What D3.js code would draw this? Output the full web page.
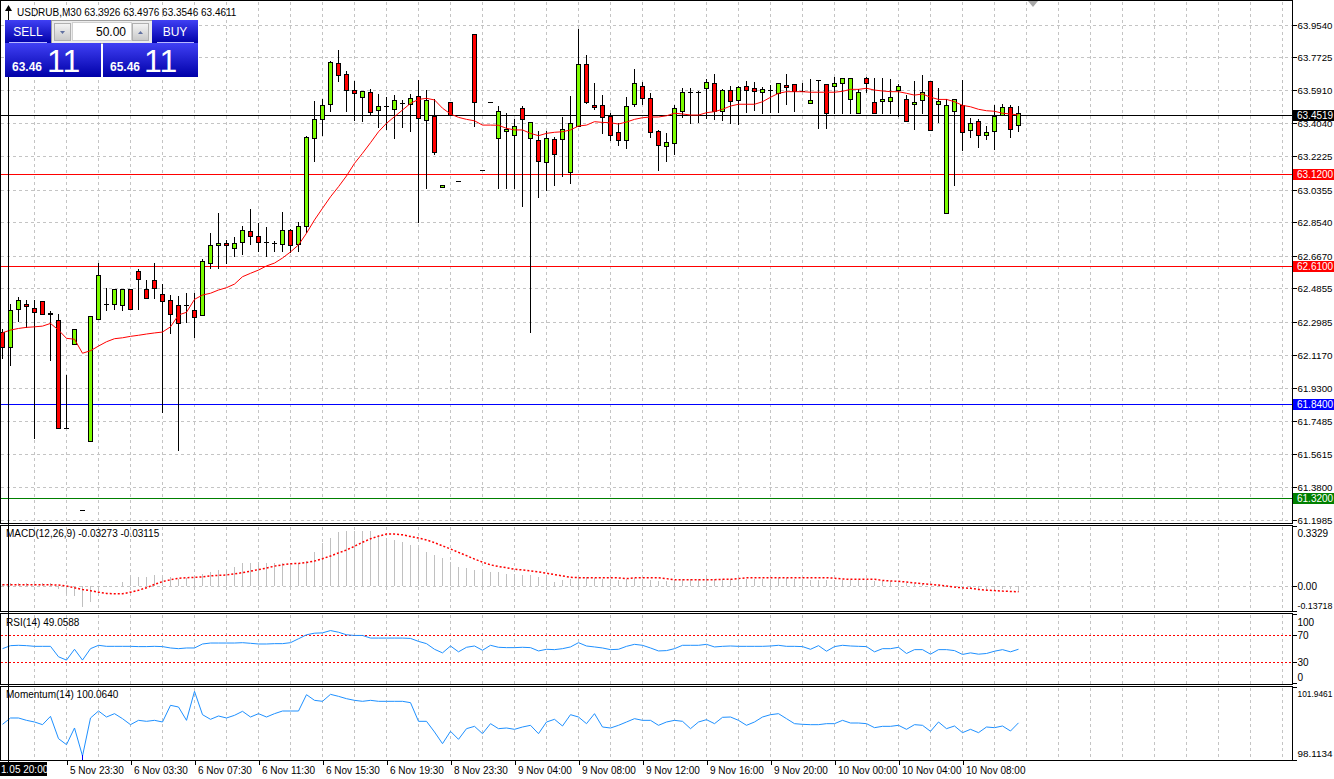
<!DOCTYPE html>
<html>
<head>
<meta charset="utf-8">
<script src="https://d3js.org/d3.v7.min.js"></script>
<style>
  html, body { margin: 0; padding: 0; background: #fff; }
  svg { display: block; font-family: "Liberation Sans", Arial, sans-serif; }
</style>
</head>
<body>
<div id="chart"></div>
<script>
// USDRUB M30 candles
const openP = [62.242,62.159,62.370,62.398,62.376,62.415,62.348,62.309,61.708,62.175,
  61.251,61.635,62.314,62.398,62.398,62.392,62.481,62.582,62.481,62.532,
  62.454,62.420,62.392,62.392,62.365,62.337,62.626,62.727,62.738,62.710,
  62.743,62.804,62.776,62.743,62.738,62.732,62.810,62.732,62.832,63.322,
  63.428,63.511,63.740,63.678,63.589,63.550,63.578,63.478,63.500,63.484,
  63.517,63.511,63.556,63.422,63.445,63.049,63.523,63.083,63.450,63.901,
  63.144,63.523,63.322,63.361,63.339,63.489,63.322,63.311,63.189,63.317,
  63.317,63.133,63.389,63.734,63.506,63.506,63.445,63.355,63.311,63.511,
  63.612,63.545,63.361,63.278,63.294,63.473,63.578,63.578,63.601,63.628,
  63.473,63.589,63.534,63.612,63.601,63.578,63.592,63.573,63.617,63.623,
  63.584,63.517,63.645,63.623,63.612,63.628,63.539,63.461,63.656,63.523,
  63.528,63.528,63.589,63.539,63.511,63.534,63.639,63.511,62.905,63.473,
  63.506,63.367,63.417,63.339,63.361,63.450,63.495,63.3926];
const highP = [62.259,62.398,62.437,62.420,62.420,62.415,62.359,62.342,62.003,62.259,
  61.251,62.331,62.626,62.487,62.481,62.481,62.481,62.593,62.532,62.626,
  62.509,62.448,62.443,62.459,62.459,62.648,62.793,62.905,62.754,62.771,
  62.832,62.927,62.849,62.827,62.749,62.910,62.816,62.855,63.333,63.528,
  63.539,63.751,63.812,63.695,63.639,63.584,63.595,63.567,63.550,63.562,
  63.534,63.567,63.645,63.589,63.539,63.060,63.523,63.083,63.450,63.901,
  63.144,63.523,63.500,63.461,63.428,63.500,63.411,63.361,63.361,63.328,
  63.439,63.556,63.929,63.784,63.628,63.562,63.461,63.406,63.550,63.706,
  63.634,63.573,63.367,63.350,63.506,63.601,63.601,63.584,63.651,63.678,
  63.595,63.612,63.612,63.639,63.634,63.606,63.617,63.628,63.678,63.623,
  63.628,63.651,63.645,63.623,63.662,63.656,63.656,63.595,63.662,63.656,
  63.656,63.651,63.623,63.562,63.639,63.673,63.639,63.601,63.539,63.539,
  63.645,63.433,63.428,63.389,63.506,63.511,63.506,63.4976];
const lowP = [62.092,62.053,62.298,62.264,61.646,62.342,62.081,61.708,61.708,62.175,
  61.251,61.635,62.314,62.359,62.365,62.359,62.365,62.365,62.431,62.426,
  61.791,62.231,61.580,62.292,62.209,62.337,62.593,62.593,62.621,62.660,
  62.671,62.727,62.688,62.660,62.688,62.688,62.682,62.688,62.793,63.189,
  63.333,63.467,63.634,63.467,63.417,63.411,63.445,63.378,63.367,63.317,
  63.378,63.355,62.849,63.038,63.228,63.049,63.450,63.083,63.450,63.383,
  63.144,63.523,63.038,63.038,63.038,62.938,62.237,62.988,63.027,63.055,
  63.105,63.066,63.389,63.511,63.478,63.344,63.305,63.278,63.261,63.495,
  63.506,63.322,63.138,63.189,63.228,63.433,63.400,63.406,63.428,63.422,
  63.417,63.400,63.395,63.461,63.473,63.456,63.461,63.461,63.506,63.467,
  63.578,63.517,63.372,63.372,63.456,63.456,63.456,63.461,63.573,63.456,
  63.456,63.456,63.439,63.417,63.367,63.456,63.367,63.406,62.905,63.055,
  63.250,63.322,63.267,63.311,63.255,63.450,63.322,63.3546];
const closeP = [62.159,62.365,62.420,62.387,62.354,62.342,62.342,61.708,61.708,62.259,
  61.251,62.331,62.560,62.398,62.481,62.481,62.370,62.537,62.431,62.487,
  62.415,62.342,62.292,62.392,62.326,62.637,62.727,62.738,62.727,62.738,
  62.810,62.776,62.743,62.743,62.738,62.810,62.727,62.832,63.328,63.428,
  63.506,63.745,63.673,63.589,63.573,63.584,63.467,63.500,63.500,63.534,
  63.517,63.545,63.433,63.534,63.244,63.060,63.450,63.083,63.450,63.523,
  63.144,63.523,63.473,63.372,63.389,63.428,63.411,63.194,63.322,63.233,
  63.372,63.406,63.734,63.523,63.495,63.439,63.339,63.311,63.500,63.628,
  63.545,63.355,63.283,63.300,63.489,63.578,63.578,63.578,63.634,63.473,
  63.589,63.528,63.606,63.589,63.584,63.595,63.592,63.628,63.606,63.584,
  63.584,63.534,63.645,63.461,63.628,63.656,63.656,63.578,63.628,63.461,
  63.539,63.550,63.612,63.417,63.523,63.578,63.367,63.528,63.506,63.539,
  63.355,63.406,63.339,63.355,63.445,63.495,63.372,63.4611];
// red moving average on the price chart
const maLine = [62.238,62.253,62.262,62.268,62.271,62.275,62.290,62.253,62.207,62.202,
  62.124,62.138,62.164,62.188,62.205,62.210,62.218,62.224,62.231,62.237,
  62.242,62.271,62.337,62.352,62.424,62.448,62.458,62.476,62.489,62.509,
  62.550,62.569,62.587,62.610,62.626,62.654,62.688,62.727,62.792,62.866,
  62.931,62.995,63.051,63.111,63.181,63.237,63.296,63.357,63.404,63.441,
  63.478,63.515,63.537,63.543,63.534,63.488,63.456,63.437,63.426,63.418,
  63.394,63.394,63.393,63.376,63.367,63.367,63.348,63.335,63.348,63.354,
  63.357,63.367,63.389,63.394,63.413,63.409,63.407,63.400,63.411,63.426,
  63.435,63.439,63.439,63.446,63.460,63.456,63.450,63.450,63.463,63.469,
  63.482,63.500,63.510,63.510,63.510,63.524,63.549,63.571,63.580,63.580,
  63.580,63.577,63.577,63.577,63.577,63.582,63.593,63.593,63.599,63.589,
  63.584,63.580,63.580,63.571,63.561,63.567,63.549,63.537,63.537,63.524,
  63.504,63.496,63.482,63.474,63.471,63.460,63.456,63.450];
// MACD(12,26,9): histogram and dotted signal
const macdMain = [0.014,0.015,0.015,0.016,0.016,0.016,0.017,-0.014,-0.042,-0.052,
  -0.117,-0.085,-0.024,-0.005,0.003,0.021,0.051,0.051,0.051,0.060,
  0.051,0.051,0.042,0.047,0.047,0.070,0.079,0.092,0.088,0.107,
  0.126,0.126,0.135,0.126,0.126,0.126,0.126,0.126,0.140,0.191,
  0.238,0.266,0.300,0.307,0.307,0.307,0.303,0.284,0.269,0.256,
  0.247,0.228,0.210,0.191,0.172,0.154,0.132,0.107,0.098,0.088,
  0.079,0.079,0.079,0.070,0.070,0.064,0.060,0.051,0.045,0.023,
  0.032,0.038,0.051,0.051,0.045,0.042,0.038,0.032,0.038,0.045,
  0.042,0.032,0.027,0.027,0.036,0.042,0.042,0.042,0.045,0.038,
  0.038,0.038,0.042,0.042,0.042,0.042,0.042,0.045,0.045,0.042,
  0.042,0.036,0.036,0.032,0.032,0.036,0.036,0.036,0.036,0.029,
  0.029,0.027,0.027,0.019,0.014,0.014,0.001,-0.001,0.001,-0.001,
  -0.014,-0.018,-0.020,-0.024,-0.024,-0.018,-0.018,-0.033];
const macdSignal = [0.008,0.008,0.008,0.008,0.008,0.008,0.008,0.006,0.001,-0.009,
  -0.018,-0.025,-0.033,-0.040,-0.042,-0.042,-0.033,-0.022,-0.009,0.010,
  0.025,0.036,0.044,0.047,0.049,0.051,0.057,0.060,0.062,0.068,
  0.075,0.083,0.092,0.100,0.111,0.118,0.124,0.126,0.131,0.139,
  0.152,0.167,0.184,0.200,0.221,0.243,0.262,0.277,0.288,0.288,
  0.284,0.275,0.266,0.256,0.241,0.223,0.206,0.187,0.169,0.150,
  0.133,0.118,0.109,0.102,0.094,0.090,0.085,0.079,0.072,0.064,
  0.057,0.049,0.047,0.047,0.047,0.047,0.047,0.046,0.042,0.046,
  0.047,0.047,0.047,0.042,0.036,0.036,0.036,0.036,0.036,0.036,
  0.038,0.038,0.042,0.047,0.047,0.047,0.047,0.047,0.047,0.047,
  0.047,0.047,0.047,0.047,0.044,0.040,0.038,0.038,0.038,0.038,
  0.032,0.029,0.027,0.023,0.018,0.014,0.010,0.006,0.001,-0.005,
  -0.009,-0.012,-0.018,-0.022,-0.024,-0.027,-0.029,-0.031];
// RSI(14)
const rsiLine = [49.9,54.3,54.8,54.3,53.3,53.3,53.3,38.1,33.3,49.0,
  33.3,49.9,54.8,53.3,53.3,53.3,53.3,52.9,52.9,53.3,
  52.9,50.9,49.9,50.9,50.9,56.7,58.1,58.1,58.1,58.1,
  58.6,57.7,56.7,56.7,57.2,57.2,58.6,64.3,70.1,72.4,
  72.9,76.2,73.8,70.1,69.1,69.1,65.3,65.3,65.3,65.3,
  65.3,64.8,60.5,57.2,49.0,43.8,53.8,45.3,51.9,53.8,
  47.6,54.8,51.9,51.4,51.4,51.9,51.4,46.6,49.0,48.5,
  49.9,52.4,58.6,53.8,52.4,50.9,48.5,49.0,53.3,56.2,
  54.8,50.9,46.6,47.1,49.9,54.8,54.8,54.8,56.2,52.4,
  53.3,53.8,53.3,53.3,53.3,53.3,53.8,54.8,53.3,53.3,
  52.9,49.0,54.3,46.2,52.9,54.8,53.8,53.3,52.9,45.3,
  49.9,49.9,51.9,42.9,48.5,48.5,41.9,48.5,48.5,47.1,
  41.5,43.8,41.9,42.9,46.2,48.5,45.3,49.06];
// Momentum(14)
const momLine = [99.986,100.319,100.319,100.196,100.109,99.969,100.406,99.234,98.919,99.794,
  98.324,100.319,100.686,100.371,100.546,100.284,99.969,100.196,100.144,100.196,
  100.109,100.984,100.896,100.196,101.719,100.493,100.249,100.424,100.319,100.459,
  100.669,100.371,100.546,100.371,100.546,100.686,100.686,100.686,101.543,101.246,
  101.194,101.561,101.456,101.333,101.246,101.194,101.246,101.194,101.194,101.194,
  101.194,101.124,100.144,100.144,99.584,98.971,99.619,99.199,99.759,99.881,
  99.496,100.021,99.759,99.794,99.724,99.846,99.934,99.496,100.109,100.249,
  99.899,100.493,100.371,100.021,100.546,99.846,99.794,99.934,100.109,100.284,
  100.196,100.196,99.934,100.109,100.196,100.144,99.759,100.109,100.231,100.021,
  100.354,100.371,100.196,99.934,100.109,100.371,100.493,100.546,100.284,100.021,
  99.986,99.969,99.969,100.021,100.021,100.196,100.056,100.056,100.021,99.811,
  99.881,99.881,99.934,99.724,99.969,99.934,99.619,100.109,99.759,99.899,
  99.549,99.724,99.549,99.846,99.811,99.899,99.636,100.064];

const priceTicks = [63.9540,63.7725,63.5910,63.4040,63.2225,63.0355,62.8540,62.6670,
  62.4855,62.2985,62.1170,61.9300,61.7485,61.5615,61.3800,61.1985];
const timeIdx = [8,16,24,32,40,48,56,64,72,80,88,96,104,112,120];
const timeLabels = ["5 Nov 23:30","6 Nov 03:30","6 Nov 07:30","6 Nov 11:30","6 Nov 15:30",
  "6 Nov 19:30","8 Nov 23:30","9 Nov 04:00","9 Nov 08:00","9 Nov 12:00","9 Nov 16:00",
  "9 Nov 20:00","10 Nov 00:00","10 Nov 04:00","10 Nov 08:00"];
const levelPrices = [63.4519, 63.12, 62.61, 61.84, 61.32];
const levelColors = ["#000000", "#ff0000", "#ff0000", "#0000ff", "#008000"];

const W = 1334, H = 779, RIGHT = 1292;
const GRID = "#c4c4c4", BULL = "#7cfc00", BEAR = "#ff0000", BLUE = "#1e90ff";
const P = { main: [0.5, 523.5], macd: [525.5, 611.5], rsi: [613.5, 684.5], mom: [686.5, 760.5] };

const x = d3.scaleLinear().domain([0, 127]).range([2.5, 1018.5]);
const yMain = d3.scaleLinear().domain([61.1985, 63.954]).range([519.5, 24.5]);
const yMacd = d3.scaleLinear().domain([-0.13718, 0.3329]).range([611, 526]);
const yRsi = d3.scaleLinear().domain([0, 100]).range([683, 614.2]);
const yMom = d3.scaleLinear().domain([98.1134, 101.9461]).range([760, 687]);
const snap = v => Math.round(v) + 0.5;

const svg = d3.select("#chart").append("svg").attr("width", W).attr("height", H)
  .style("font-size", "10px");
svg.append("rect").attr("width", W).attr("height", H).attr("fill", "#fff");

// grids
const grid = svg.append("g").attr("stroke", GRID).attr("stroke-dasharray", "3,3")
  .attr("shape-rendering", "crispEdges");
Object.values(P).forEach(([y0, y1]) => {
  grid.append("g").selectAll("line").data(d3.range(4, 161, 4)).join("line")
    .attr("x1", d => x(d)).attr("x2", d => x(d)).attr("y1", y0 + 1).attr("y2", y1 - 1);
});
grid.append("g").selectAll("line").data(priceTicks).join("line")
  .attr("x1", 1).attr("x2", RIGHT).attr("y1", d => snap(yMain(d))).attr("y2", d => snap(yMain(d)));
grid.append("line").attr("x1", 1).attr("x2", RIGHT)
  .attr("y1", snap(yMacd(0))).attr("y2", snap(yMacd(0)));

// horizontal price levels
svg.append("g").attr("shape-rendering", "crispEdges").selectAll("line").data(levelPrices).join("line")
  .attr("x1", 1).attr("x2", RIGHT).attr("y1", d => snap(yMain(d))).attr("y2", d => snap(yMain(d)))
  .attr("stroke", (d, i) => levelColors[i]);

// candles
const bars = closeP.map((c, i) => ({ i, o: openP[i], h: highP[i], l: lowP[i], c }));
const cg = svg.append("g").attr("shape-rendering", "crispEdges");
cg.selectAll("line.wick").data(bars).join("line").attr("class", "wick")
  .attr("x1", d => x(d.i)).attr("x2", d => x(d.i))
  .attr("y1", d => Math.round(yMain(d.h)))
  .attr("y2", d => Math.max(Math.round(yMain(d.l)), Math.round(yMain(d.h)) + 1))
  .attr("stroke", "#000");
bars.forEach(d => {
  const yo = Math.round(yMain(d.o)), yc = Math.round(yMain(d.c));
  const top = Math.min(yo, yc), bot = Math.max(yo, yc), cx = x(d.i);
  if (bot - top < 1) {
    cg.append("line").attr("x1", cx - 2.5).attr("x2", cx + 2.5)
      .attr("y1", top + 0.5).attr("y2", top + 0.5).attr("stroke", "#000");
  } else {
    cg.append("rect").attr("x", cx - 2).attr("y", top + 0.5).attr("width", 4).attr("height", bot - top)
      .attr("fill", d.c > d.o ? BULL : BEAR).attr("stroke", "#000");
  }
});

// moving average
svg.append("path").datum(maLine)
  .attr("d", d3.line().x((d, i) => x(i)).y(d => yMain(d)))
  .attr("fill", "none").attr("stroke", "#ff0000").attr("stroke-width", 1);

// MACD
svg.append("g").attr("shape-rendering", "crispEdges").selectAll("line").data(macdMain).join("line")
  .attr("x1", (d, i) => x(i)).attr("x2", (d, i) => x(i))
  .attr("y1", Math.round(yMacd(0))).attr("y2", d => Math.round(yMacd(d)))
  .attr("stroke", "#c0c0c0");
svg.append("path").datum(macdSignal)
  .attr("d", d3.line().x((d, i) => x(i)).y(d => yMacd(d)))
  .attr("fill", "none").attr("stroke", "#ff0000").attr("stroke-width", 1.5)
  .attr("stroke-dasharray", "2,2");

// RSI
svg.append("g").selectAll("line").data([70, 30]).join("line")
  .attr("x1", 1).attr("x2", RIGHT).attr("y1", d => snap(yRsi(d))).attr("y2", d => snap(yRsi(d)))
  .attr("stroke", "#ff0000").attr("stroke-dasharray", "2,2").attr("shape-rendering", "crispEdges");
svg.append("path").datum(rsiLine)
  .attr("d", d3.line().x((d, i) => x(i)).y(d => yRsi(d)))
  .attr("fill", "none").attr("stroke", BLUE).attr("stroke-width", 1);

// Momentum
svg.append("path").datum(momLine)
  .attr("d", d3.line().x((d, i) => x(i)).y(d => yMom(d)))
  .attr("fill", "none").attr("stroke", BLUE).attr("stroke-width", 1);

// panel frames
svg.append("g").selectAll("rect").data(Object.values(P)).join("rect")
  .attr("x", 0.5).attr("y", d => d[0]).attr("width", RIGHT).attr("height", d => d[1] - d[0])
  .attr("fill", "none").attr("stroke", "#000").attr("shape-rendering", "crispEdges");

// right axes; long labels get a smaller font so they fit the 36px column
function rightAxis(scale, values, fmt, shifts) {
  const g = svg.append("g").attr("transform", `translate(${RIGHT + 0.5},0)`)
    .call(d3.axisRight(scale).tickValues(values).tickFormat(fmt).tickSize(4).tickPadding(1));
  g.select(".domain").remove();
  g.selectAll("text").attr("fill", "#000").style("font-size", "10px")
    .attr("dy", (d, i) => (shifts ? shifts[i] : 0) + 3.5)
    .each(function () {
      const len = this.getComputedTextLength();
      if (len > 35) d3.select(this).style("font-size", (10 * 35 / len).toFixed(2) + "px");
    });
  g.selectAll("line").attr("stroke", "#000").attr("shape-rendering", "crispEdges");
  return g;
}
rightAxis(yMain, priceTicks, d3.format(".4f"));
rightAxis(yMacd, [0.3329, 0, -0.13718], d => d === 0 ? "0.00" : String(d), [7, 0, -6]);
rightAxis(yRsi, [100, 70, 30, 0], d3.format("d"), [8, 0, 0, -6]);
rightAxis(yMom, [101.9461, 98.1134], d3.format(".4f"), [6, -7]);

// level labels
const lv = svg.append("g").selectAll("g").data(levelPrices).join("g")
  .attr("transform", d => `translate(${RIGHT + 1},${Math.round(yMain(d))})`);
lv.append("rect").attr("x", 0).attr("y", -5).attr("width", 41).attr("height", 11)
  .attr("fill", (d, i) => levelColors[i]);
lv.append("text").attr("x", 4).attr("y", 4).attr("fill", "#fff").style("font-size", "10px")
  .text(d => d.toFixed(4));

// time axis
const tx = svg.append("g").attr("transform", `translate(0,${P.mom[1]})`)
  .call(d3.axisBottom(x).tickValues(timeIdx).tickFormat((d, i) => timeLabels[i]).tickSize(4).tickPadding(2));
tx.select(".domain").remove();
tx.selectAll("line").attr("stroke", "#000").attr("shape-rendering", "crispEdges");
tx.selectAll("text").attr("text-anchor", "start").attr("dx", 3).attr("fill", "#000").style("font-size", "10px");
svg.append("rect").attr("x", 0).attr("y", 762).attr("width", 47).attr("height", 14).attr("fill", "#000");
svg.append("text").attr("x", 1).attr("y", 773).attr("fill", "#fff").text("1.05 20:00");

// cursor line and markers
svg.append("line").attr("x1", 8.5).attr("x2", 8.5).attr("y1", 6).attr("y2", 776)
  .attr("stroke", "#000").attr("shape-rendering", "crispEdges");
svg.append("path").attr("d", "M5,11L8.5,5L12,11Z").attr("fill", "#000");
svg.append("path").attr("d", "M1028,1L1038,1L1033,7Z").attr("fill", "#a8a8a8");
svg.append("line").attr("x1", 82.5).attr("x2", 82.5).attr("y1", 755).attr("y2", 760)
  .attr("stroke", "#0000ff");

// panel captions
svg.append("text").attr("x", 17).attr("y", 16).text("USDRUB,M30  63.3926 63.4976 63.3546 63.4611");
svg.append("text").attr("x", 6).attr("y", 537).text("MACD(12,26,9) -0.03273 -0.03115");
svg.append("text").attr("x", 6).attr("y", 626).text("RSI(14) 49.0588");
svg.append("text").attr("x", 6).attr("y", 698).text("Momentum(14) 100.0640");

// one click trading panel
const defs = svg.append("defs");
const bg = defs.append("linearGradient").attr("id", "blueGrad").attr("x1", 0).attr("y1", 0).attr("x2", 0).attr("y2", 1);
bg.append("stop").attr("offset", "0%").attr("stop-color", "#4040f4");
bg.append("stop").attr("offset", "100%").attr("stop-color", "#0000a8");
const gg = defs.append("linearGradient").attr("id", "grayGrad").attr("x1", 0).attr("y1", 0).attr("x2", 0).attr("y2", 1);
gg.append("stop").attr("offset", "0%").attr("stop-color", "#f4f4f4");
gg.append("stop").attr("offset", "100%").attr("stop-color", "#c8c8c8");

const tp = svg.append("g").attr("shape-rendering", "crispEdges");
tp.append("rect").attr("x", 51).attr("y", 20).attr("width", 101).attr("height", 23).attr("fill", "#ececec").attr("stroke", "#a0a0a0");
tp.append("rect").attr("x", 5).attr("y", 20).attr("width", 46).attr("height", 23).attr("fill", "url(#blueGrad)");
tp.append("rect").attr("x", 152).attr("y", 20).attr("width", 46).attr("height", 23).attr("fill", "url(#blueGrad)");
tp.append("rect").attr("x", 5).attr("y", 43).attr("width", 96).attr("height", 34).attr("fill", "url(#blueGrad)");
tp.append("rect").attr("x", 103).attr("y", 43).attr("width", 95).attr("height", 34).attr("fill", "url(#blueGrad)");
tp.append("line").attr("x1", 9).attr("x2", 47).attr("y1", 42.5).attr("y2", 42.5).attr("stroke", "#b8b8ff");
tp.append("line").attr("x1", 157).attr("x2", 194).attr("y1", 42.5).attr("y2", 42.5).attr("stroke", "#b8b8ff");
tp.append("rect").attr("x", 72.5).attr("y", 22.5).attr("width", 59).attr("height", 18).attr("fill", "#fff").attr("stroke", "#d0d0d0");
tp.append("rect").attr("x", 54.5).attr("y", 23.5).attr("width", 16).attr("height", 17).attr("fill", "url(#grayGrad)").attr("stroke", "#b0b0b0");
tp.append("rect").attr("x", 132.5).attr("y", 23.5).attr("width", 16).attr("height", 17).attr("fill", "url(#grayGrad)").attr("stroke", "#b0b0b0");
svg.append("path").attr("d", "M60,31L65,31L62.5,34Z").attr("fill", "#6070a0");
svg.append("path").attr("d", "M138,34L143,34L140.5,31Z").attr("fill", "#6070a0");
svg.append("text").attr("x", 28).attr("y", 36).attr("text-anchor", "middle").attr("fill", "#fff")
  .style("font-size", "12px").text("SELL");
svg.append("text").attr("x", 175).attr("y", 36).attr("text-anchor", "middle").attr("fill", "#fff")
  .style("font-size", "12px").text("BUY");
svg.append("text").attr("x", 126).attr("y", 36).attr("text-anchor", "end").attr("fill", "#000")
  .style("font-size", "12px").text("50.00");
svg.append("text").attr("x", 12).attr("y", 71).attr("fill", "#fff").style("font-size", "12px")
  .style("font-weight", "bold").text("63.46");
svg.append("text").attr("x", 110).attr("y", 71).attr("fill", "#fff").style("font-size", "12px")
  .style("font-weight", "bold").text("65.46");
svg.append("text").attr("x", 47).attr("y", 72).attr("fill", "#fff").style("font-size", "32px").text("11");
svg.append("text").attr("x", 144).attr("y", 72).attr("fill", "#fff").style("font-size", "32px").text("11");
</script>
</body>
</html>
